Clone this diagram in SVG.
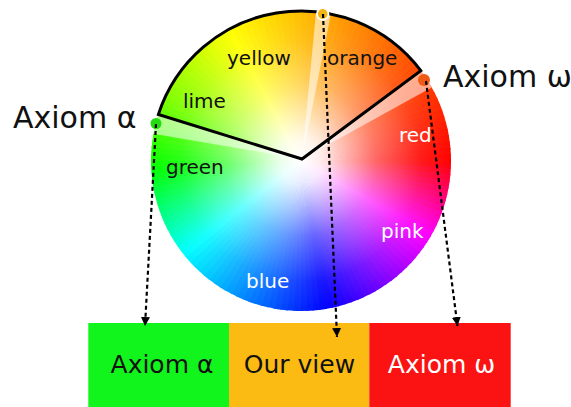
<svg xmlns="http://www.w3.org/2000/svg" width="571" height="407" viewBox="0 0 571 407">
<style>
.lbl{font-family:"DejaVu Sans",sans-serif;font-size:20px}
.blk{fill:#111}
.wht{fill:#fff}
.big{font-family:"DejaVu Sans",sans-serif;font-size:30px;fill:#111}
.box{font-family:"DejaVu Sans",sans-serif;font-size:25px;text-anchor:middle}
.pale{fill:#fff;fill-opacity:0.55}
.conn{fill:none;stroke:#000;stroke-width:2.2;stroke-dasharray:4 3;marker-end:url(#ah)}
</style>
<defs>
<path id="w" d="M0 0L150 0A150 150 0 0 1 149.78 8.11Z"/>
<radialGradient id="rg" cx="0" cy="0" r="150" gradientUnits="userSpaceOnUse">
<stop offset="0" stop-color="#fff" stop-opacity="1"/>
<stop offset="0.15" stop-color="#fff" stop-opacity="0.9"/>
<stop offset="0.5" stop-color="#fff" stop-opacity="0.4"/>
<stop offset="0.8" stop-color="#fff" stop-opacity="0.1"/>
<stop offset="1" stop-color="#fff" stop-opacity="0"/>
</radialGradient>
<marker id="ah" markerWidth="10" markerHeight="10" refX="9" refY="4.5" orient="auto" markerUnits="userSpaceOnUse"><path d="M0 0L9 4.5L0 9Z" fill="#000"/></marker>
</defs>
<rect width="571" height="407" fill="#fff"/>
<g id="wheel">
<g transform="translate(301 161)">
<use href="#w" transform="rotate(0)" fill="hsl(357.5,100%,50%)"/>
<use href="#w" transform="rotate(2.5)" fill="hsl(352.5,100%,50%)"/>
<use href="#w" transform="rotate(5)" fill="hsl(347.5,100%,50%)"/>
<use href="#w" transform="rotate(7.5)" fill="hsl(342.5,100%,50%)"/>
<use href="#w" transform="rotate(10)" fill="hsl(337.5,100%,50%)"/>
<use href="#w" transform="rotate(12.5)" fill="hsl(332.5,100%,50%)"/>
<use href="#w" transform="rotate(15)" fill="hsl(327.5,100%,50%)"/>
<use href="#w" transform="rotate(17.5)" fill="hsl(322.5,100%,50%)"/>
<use href="#w" transform="rotate(20)" fill="hsl(317.5,100%,50%)"/>
<use href="#w" transform="rotate(22.5)" fill="hsl(312.5,100%,50%)"/>
<use href="#w" transform="rotate(25)" fill="hsl(307.5,100%,50%)"/>
<use href="#w" transform="rotate(27.5)" fill="hsl(302.5,100%,50%)"/>
<use href="#w" transform="rotate(30)" fill="hsl(298.5,100%,50%)"/>
<use href="#w" transform="rotate(32.5)" fill="hsl(295.5,100%,50%)"/>
<use href="#w" transform="rotate(35)" fill="hsl(292.5,100%,50%)"/>
<use href="#w" transform="rotate(37.5)" fill="hsl(289.5,100%,50%)"/>
<use href="#w" transform="rotate(40)" fill="hsl(286.5,100%,50%)"/>
<use href="#w" transform="rotate(42.5)" fill="hsl(283.5,100%,50%)"/>
<use href="#w" transform="rotate(45)" fill="hsl(280.5,100%,50%)"/>
<use href="#w" transform="rotate(47.5)" fill="hsl(277.5,100%,50%)"/>
<use href="#w" transform="rotate(50)" fill="hsl(274.5,100%,50%)"/>
<use href="#w" transform="rotate(52.5)" fill="hsl(271.5,100%,50%)"/>
<use href="#w" transform="rotate(55)" fill="hsl(268.5,100%,50%)"/>
<use href="#w" transform="rotate(57.5)" fill="hsl(265.5,100%,50%)"/>
<use href="#w" transform="rotate(60)" fill="hsl(262.5,100%,50%)"/>
<use href="#w" transform="rotate(62.5)" fill="hsl(259.5,100%,50%)"/>
<use href="#w" transform="rotate(65)" fill="hsl(256.5,100%,50%)"/>
<use href="#w" transform="rotate(67.5)" fill="hsl(253.5,100%,50%)"/>
<use href="#w" transform="rotate(70)" fill="hsl(250.5,100%,50%)"/>
<use href="#w" transform="rotate(72.5)" fill="hsl(247.5,100%,50%)"/>
<use href="#w" transform="rotate(75)" fill="hsl(244.5,100%,50%)"/>
<use href="#w" transform="rotate(77.5)" fill="hsl(241.5,100%,50%)"/>
<use href="#w" transform="rotate(80)" fill="hsl(238.8,100%,50%)"/>
<use href="#w" transform="rotate(82.5)" fill="hsl(236.4,100%,50%)"/>
<use href="#w" transform="rotate(85)" fill="hsl(234,100%,50%)"/>
<use href="#w" transform="rotate(87.5)" fill="hsl(231.5,100%,50%)"/>
<use href="#w" transform="rotate(90)" fill="hsl(229.1,100%,50%)"/>
<use href="#w" transform="rotate(92.5)" fill="hsl(226.7,100%,50%)"/>
<use href="#w" transform="rotate(95)" fill="hsl(224.3,100%,50%)"/>
<use href="#w" transform="rotate(97.5)" fill="hsl(221.9,100%,50%)"/>
<use href="#w" transform="rotate(100)" fill="hsl(219.4,100%,50%)"/>
<use href="#w" transform="rotate(102.5)" fill="hsl(217,100%,50%)"/>
<use href="#w" transform="rotate(105)" fill="hsl(214.6,100%,50%)"/>
<use href="#w" transform="rotate(107.5)" fill="hsl(212.2,100%,50%)"/>
<use href="#w" transform="rotate(110)" fill="hsl(209.8,100%,50%)"/>
<use href="#w" transform="rotate(112.5)" fill="hsl(207.3,100%,50%)"/>
<use href="#w" transform="rotate(115)" fill="hsl(204.9,100%,50%)"/>
<use href="#w" transform="rotate(117.5)" fill="hsl(202.5,100%,50%)"/>
<use href="#w" transform="rotate(120)" fill="hsl(200.1,100%,50%)"/>
<use href="#w" transform="rotate(122.5)" fill="hsl(197.7,100%,50%)"/>
<use href="#w" transform="rotate(125)" fill="hsl(195.2,100%,50%)"/>
<use href="#w" transform="rotate(127.5)" fill="hsl(192.8,100%,50%)"/>
<use href="#w" transform="rotate(130)" fill="hsl(190.4,100%,50%)"/>
<use href="#w" transform="rotate(132.5)" fill="hsl(188,100%,50%)"/>
<use href="#w" transform="rotate(135)" fill="hsl(185.6,100%,50%)"/>
<use href="#w" transform="rotate(137.5)" fill="hsl(183.1,100%,50%)"/>
<use href="#w" transform="rotate(140)" fill="hsl(180.7,100%,50%)"/>
<use href="#w" transform="rotate(142.5)" fill="hsl(177,100%,50%)"/>
<use href="#w" transform="rotate(145)" fill="hsl(172.7,100%,50%)"/>
<use href="#w" transform="rotate(147.5)" fill="hsl(168.4,100%,50%)"/>
<use href="#w" transform="rotate(150)" fill="hsl(164.1,100%,50%)"/>
<use href="#w" transform="rotate(152.5)" fill="hsl(159.9,100%,50%)"/>
<use href="#w" transform="rotate(155)" fill="hsl(155.6,100%,50%)"/>
<use href="#w" transform="rotate(157.5)" fill="hsl(151.3,100%,50%)"/>
<use href="#w" transform="rotate(160)" fill="hsl(147,100%,50%)"/>
<use href="#w" transform="rotate(162.5)" fill="hsl(142.7,100%,50%)"/>
<use href="#w" transform="rotate(165)" fill="hsl(138.4,100%,50%)"/>
<use href="#w" transform="rotate(167.5)" fill="hsl(134.1,100%,50%)"/>
<use href="#w" transform="rotate(170)" fill="hsl(129.9,100%,50%)"/>
<use href="#w" transform="rotate(172.5)" fill="hsl(125.6,100%,50%)"/>
<use href="#w" transform="rotate(175)" fill="hsl(121.3,100%,50%)"/>
<use href="#w" transform="rotate(177.5)" fill="hsl(118.1,100%,50%)"/>
<use href="#w" transform="rotate(180)" fill="hsl(115.4,100%,50%)"/>
<use href="#w" transform="rotate(182.5)" fill="hsl(112.8,100%,50%)"/>
<use href="#w" transform="rotate(185)" fill="hsl(110.1,100%,50%)"/>
<use href="#w" transform="rotate(187.5)" fill="hsl(107.4,100%,50%)"/>
<use href="#w" transform="rotate(190)" fill="hsl(104.7,100%,50%)"/>
<use href="#w" transform="rotate(192.5)" fill="hsl(102.1,100%,50%)"/>
<use href="#w" transform="rotate(195)" fill="hsl(99.4,100%,50%)"/>
<use href="#w" transform="rotate(197.5)" fill="hsl(96.7,100%,50%)"/>
<use href="#w" transform="rotate(200)" fill="hsl(94,100%,50%)"/>
<use href="#w" transform="rotate(202.5)" fill="hsl(91.3,100%,50%)"/>
<use href="#w" transform="rotate(205)" fill="hsl(89,100%,50%)"/>
<use href="#w" transform="rotate(207.5)" fill="hsl(86.9,100%,50%)"/>
<use href="#w" transform="rotate(210)" fill="hsl(84.8,100%,50%)"/>
<use href="#w" transform="rotate(212.5)" fill="hsl(82.7,100%,50%)"/>
<use href="#w" transform="rotate(215)" fill="hsl(80.6,100%,50%)"/>
<use href="#w" transform="rotate(217.5)" fill="hsl(78.5,100%,50%)"/>
<use href="#w" transform="rotate(220)" fill="hsl(76.5,100%,50%)"/>
<use href="#w" transform="rotate(222.5)" fill="hsl(74.4,100%,50%)"/>
<use href="#w" transform="rotate(225)" fill="hsl(72.3,100%,50%)"/>
<use href="#w" transform="rotate(227.5)" fill="hsl(70.2,100%,50%)"/>
<use href="#w" transform="rotate(230)" fill="hsl(68.1,100%,50%)"/>
<use href="#w" transform="rotate(232.5)" fill="hsl(66,100%,50%)"/>
<use href="#w" transform="rotate(235)" fill="hsl(64,100%,50%)"/>
<use href="#w" transform="rotate(237.5)" fill="hsl(61.9,100%,50%)"/>
<use href="#w" transform="rotate(240)" fill="hsl(59.9,100%,50%)"/>
<use href="#w" transform="rotate(242.5)" fill="hsl(58.5,100%,50%)"/>
<use href="#w" transform="rotate(245)" fill="hsl(57.2,100%,50%)"/>
<use href="#w" transform="rotate(247.5)" fill="hsl(55.8,100%,50%)"/>
<use href="#w" transform="rotate(250)" fill="hsl(54.5,100%,50%)"/>
<use href="#w" transform="rotate(252.5)" fill="hsl(53.2,100%,50%)"/>
<use href="#w" transform="rotate(255)" fill="hsl(51.8,100%,50%)"/>
<use href="#w" transform="rotate(257.5)" fill="hsl(50.5,100%,50%)"/>
<use href="#w" transform="rotate(260)" fill="hsl(49.2,100%,50%)"/>
<use href="#w" transform="rotate(262.5)" fill="hsl(47.8,100%,50%)"/>
<use href="#w" transform="rotate(265)" fill="hsl(46.5,100%,50%)"/>
<use href="#w" transform="rotate(267.5)" fill="hsl(45.1,100%,50%)"/>
<use href="#w" transform="rotate(270)" fill="hsl(43.8,100%,50%)"/>
<use href="#w" transform="rotate(272.5)" fill="hsl(42.5,100%,50%)"/>
<use href="#w" transform="rotate(275)" fill="hsl(41.1,100%,50%)"/>
<use href="#w" transform="rotate(277.5)" fill="hsl(39.8,100%,50%)"/>
<use href="#w" transform="rotate(280)" fill="hsl(38.4,100%,50%)"/>
<use href="#w" transform="rotate(282.5)" fill="hsl(37.1,100%,50%)"/>
<use href="#w" transform="rotate(285)" fill="hsl(35.8,100%,50%)"/>
<use href="#w" transform="rotate(287.5)" fill="hsl(34.4,100%,50%)"/>
<use href="#w" transform="rotate(290)" fill="hsl(33.1,100%,50%)"/>
<use href="#w" transform="rotate(292.5)" fill="hsl(31.7,100%,50%)"/>
<use href="#w" transform="rotate(295)" fill="hsl(30.4,100%,50%)"/>
<use href="#w" transform="rotate(297.5)" fill="hsl(29.1,100%,50%)"/>
<use href="#w" transform="rotate(300)" fill="hsl(27.8,100%,50%)"/>
<use href="#w" transform="rotate(302.5)" fill="hsl(26.5,100%,50%)"/>
<use href="#w" transform="rotate(305)" fill="hsl(25.2,100%,50%)"/>
<use href="#w" transform="rotate(307.5)" fill="hsl(23.9,100%,50%)"/>
<use href="#w" transform="rotate(310)" fill="hsl(22.6,100%,50%)"/>
<use href="#w" transform="rotate(312.5)" fill="hsl(21.3,100%,50%)"/>
<use href="#w" transform="rotate(315)" fill="hsl(20,100%,50%)"/>
<use href="#w" transform="rotate(317.5)" fill="hsl(18.8,100%,50%)"/>
<use href="#w" transform="rotate(320)" fill="hsl(17.5,100%,50%)"/>
<use href="#w" transform="rotate(322.5)" fill="hsl(16.2,100%,50%)"/>
<use href="#w" transform="rotate(325)" fill="hsl(14.9,100%,50%)"/>
<use href="#w" transform="rotate(327.5)" fill="hsl(13.8,100%,50%)"/>
<use href="#w" transform="rotate(330)" fill="hsl(12.7,100%,50%)"/>
<use href="#w" transform="rotate(332.5)" fill="hsl(11.6,100%,50%)"/>
<use href="#w" transform="rotate(335)" fill="hsl(10.5,100%,50%)"/>
<use href="#w" transform="rotate(337.5)" fill="hsl(9.4,100%,50%)"/>
<use href="#w" transform="rotate(340)" fill="hsl(8.3,100%,50%)"/>
<use href="#w" transform="rotate(342.5)" fill="hsl(7.2,100%,50%)"/>
<use href="#w" transform="rotate(345)" fill="hsl(6.1,100%,50%)"/>
<use href="#w" transform="rotate(347.5)" fill="hsl(5,100%,50%)"/>
<use href="#w" transform="rotate(350)" fill="hsl(3.9,100%,50%)"/>
<use href="#w" transform="rotate(352.5)" fill="hsl(2.8,100%,50%)"/>
<use href="#w" transform="rotate(355)" fill="hsl(1.7,100%,50%)"/>
<use href="#w" transform="rotate(357.5)" fill="hsl(0.6,100%,50%)"/>
<circle r="150" fill="url(#rg)"/>
</g>
<path class="pale" d="M302 159L158.4 114.4A150 150 0 0 0 153.5 133.7Z"/>
<path class="pale" d="M302 159L316 11.8A150 150 0 0 1 330.9 14Z"/>
<path class="pale" d="M302 159L420.8 70.7A150 150 0 0 1 431.7 87.4Z"/>
<path d="M158.4 114.4A150 150 0 0 1 420.8 70.7L302 159Z" fill="none" stroke="#000" stroke-width="3" stroke-linejoin="miter"/>
<text class="lbl blk" x="227" y="65">yellow</text>
<text class="lbl blk" x="327" y="65">orange</text>
<text class="lbl blk" x="183" y="108">lime</text>
<text class="lbl blk" x="166" y="174">green</text>
<text class="lbl wht" x="399" y="142">red</text>
<text class="lbl wht" x="381" y="238">pink</text>
<text class="lbl wht" x="246" y="288">blue</text>
</g>
<g id="dot-alpha"><circle cx="156" cy="123.5" r="5.5" fill="#22dd11"/></g>
<g id="dot-view"><circle cx="322.7" cy="14" r="5.8" fill="#f5b515" stroke="#fff" stroke-width="1.8"/></g>
<g id="dot-omega"><circle cx="424" cy="80" r="6" fill="#f05a14"/></g>
<g id="label-alpha"><text class="big" x="13" y="128">Axiom α</text></g>
<g id="label-omega"><text class="big" x="443" y="87">Axiom ω</text></g>
<g id="box-alpha"><rect x="88.3" y="323" width="140.7" height="84" fill="#12f51c"/><text class="box" x="162" y="373" fill="#111">Axiom α</text></g>
<g id="box-view"><rect x="229" y="323" width="140.3" height="84" fill="#fcbb12"/><text class="box" x="299.5" y="373" fill="#111">Our view</text></g>
<g id="box-omega"><rect x="369.3" y="323" width="141.4" height="84" fill="#fb1212"/><text class="box" x="441.5" y="373" fill="#fff">Axiom ω</text></g>
<g id="connectors">
<path class="conn" d="M156 124L145 326"/>
<path class="conn" d="M323 14L337 337"/>
<path class="conn" d="M426 81L457.5 326"/>
</g>
</svg>
